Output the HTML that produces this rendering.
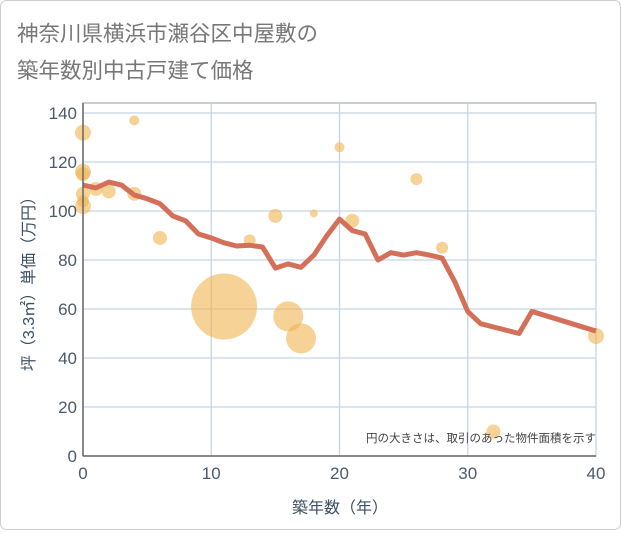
<!DOCTYPE html>
<html><head><meta charset="utf-8"><style>
html,body{margin:0;padding:0;background:#fff;}
body{width:621px;height:530px;overflow:hidden;font-family:"Liberation Sans","Noto Sans CJK JP",sans-serif;}
</style></head><body>
<svg id="c" width="621" height="530" xmlns="http://www.w3.org/2000/svg">
<rect x="0.5" y="0.5" width="620" height="529" rx="6" fill="#fff" stroke="#ccc"/>
<text x="17" y="41" font-size="21.5" fill="#777" font-family="Liberation Sans, Noto Sans CJK JP, sans-serif">神奈川県横浜市瀬谷区中屋敷の</text>
<text x="17" y="78" font-size="21.5" fill="#777" font-family="Liberation Sans, Noto Sans CJK JP, sans-serif">築年数別中古戸建て価格</text>
<g id="grid"></g><g id="bubbles"></g><g id="line"></g><g id="axes"></g>
<text x="596" y="442" font-size="11.5" fill="#444" text-anchor="end" font-family="Liberation Sans, Noto Sans CJK JP, sans-serif">円の大きさは、取引のあった物件面積を示す</text>
<text x="340" y="513" font-size="16" fill="#3d4f63" text-anchor="middle" font-family="Liberation Sans, Noto Sans CJK JP, sans-serif">築年数（年）</text>
<text transform="translate(34,280) rotate(-90)" font-size="16" fill="#3d4f63" text-anchor="middle" font-family="Liberation Sans, Noto Sans CJK JP, sans-serif">坪（3.3㎡）単価（万円）</text>
</svg>
<script>
const xTicks=[0,10,20,30,40];
const yTicks=[0,20,40,60,80,100,120,140];
const lineYears=[0,1,2,3,4,5,6,7,8,9,10,11,12,13,14,15,16,17,18,19,20,21,22,23,24,25,26,27,28,29,30,31,34,35,40];
const lineValues=[110.6,109.4,111.8,110.6,106.5,105,103,98,96,90.6,89,87,85.7,86,85.3,76.7,78.4,77,82,89.8,96.7,92,90.6,80,83,82,83,82,80.8,71,59,54,50,59,51];
const bubbleYears=[0,4,0,0,0,0,0,1,2,4,6,11,13,15,16,17,18,20,21,26,28,32,40];
const bubbleValues=[132,137,116,115,107,104,102,109,108,107,89,61,88,98,57,48,99,126,96,113,85,10,49];
const bubbleSizes=[8,5,8,7,7,6,8,7,7,7,7,33,6,7,15,15,4,5,7,6,6,7,8];
const X0=83,X1=596,Y0=456,Y1=113;
const sx=v=>X0+(X1-X0)*v/40, sy=v=>Y0-(Y0-Y1)*v/140;
const NS='http://www.w3.org/2000/svg';
function mk(t,a,p){const e=document.createElementNS(NS,t);for(const k in a)e.setAttribute(k,a[k]);p.appendChild(e);return e;}
const grid=document.getElementById('grid'),axes=document.getElementById('axes');
mk('rect',{x:X0,y:103,width:X1-X0,height:Y0-103,fill:'none',stroke:'#999'},grid);
yTicks.forEach(t=>{const l=mk('line',{x1:X0,x2:X1,y1:sy(t),y2:sy(t),stroke:'#c5d5e5','stroke-width':1.3},grid);


const tx=mk('text',{x:X0-6,y:sy(t)+6,'font-size':17,fill:'#4a5a6a','text-anchor':'end'},axes);tx.textContent=t;

});
xTicks.forEach(t=>{const l=mk('line',{x1:sx(t),x2:sx(t),y1:103,y2:Y0,stroke:'#c5d5e5','stroke-width':1.3},grid);


const tx=mk('text',{x:sx(t),y:Y0+23,'font-size':17,fill:'#4a5a6a','text-anchor':'middle'},axes);tx.textContent=t;

});
mk('line',{x1:X0,x2:X0,y1:103,y2:Y0,stroke:'#666','stroke-width':1.5},axes);
mk('line',{x1:X0,x2:X1,y1:Y0,y2:Y0,stroke:'#666','stroke-width':1.5},axes);
const bg=document.getElementById('bubbles');
bubbleYears.forEach((y,i)=>{const c=mk('circle',{cx:sx(y),cy:sy(bubbleValues[i]),r:bubbleSizes[i],fill:'rgba(240,180,80,0.6)'},bg);

});
const p=mk('polyline',{points:lineYears.map((y,i)=>sx(y)+','+sy(lineValues[i])).join(' '),fill:'none',stroke:'#d4705a','stroke-width':5,'stroke-linejoin':'round'},document.getElementById('line'));


</script>
</body></html>
